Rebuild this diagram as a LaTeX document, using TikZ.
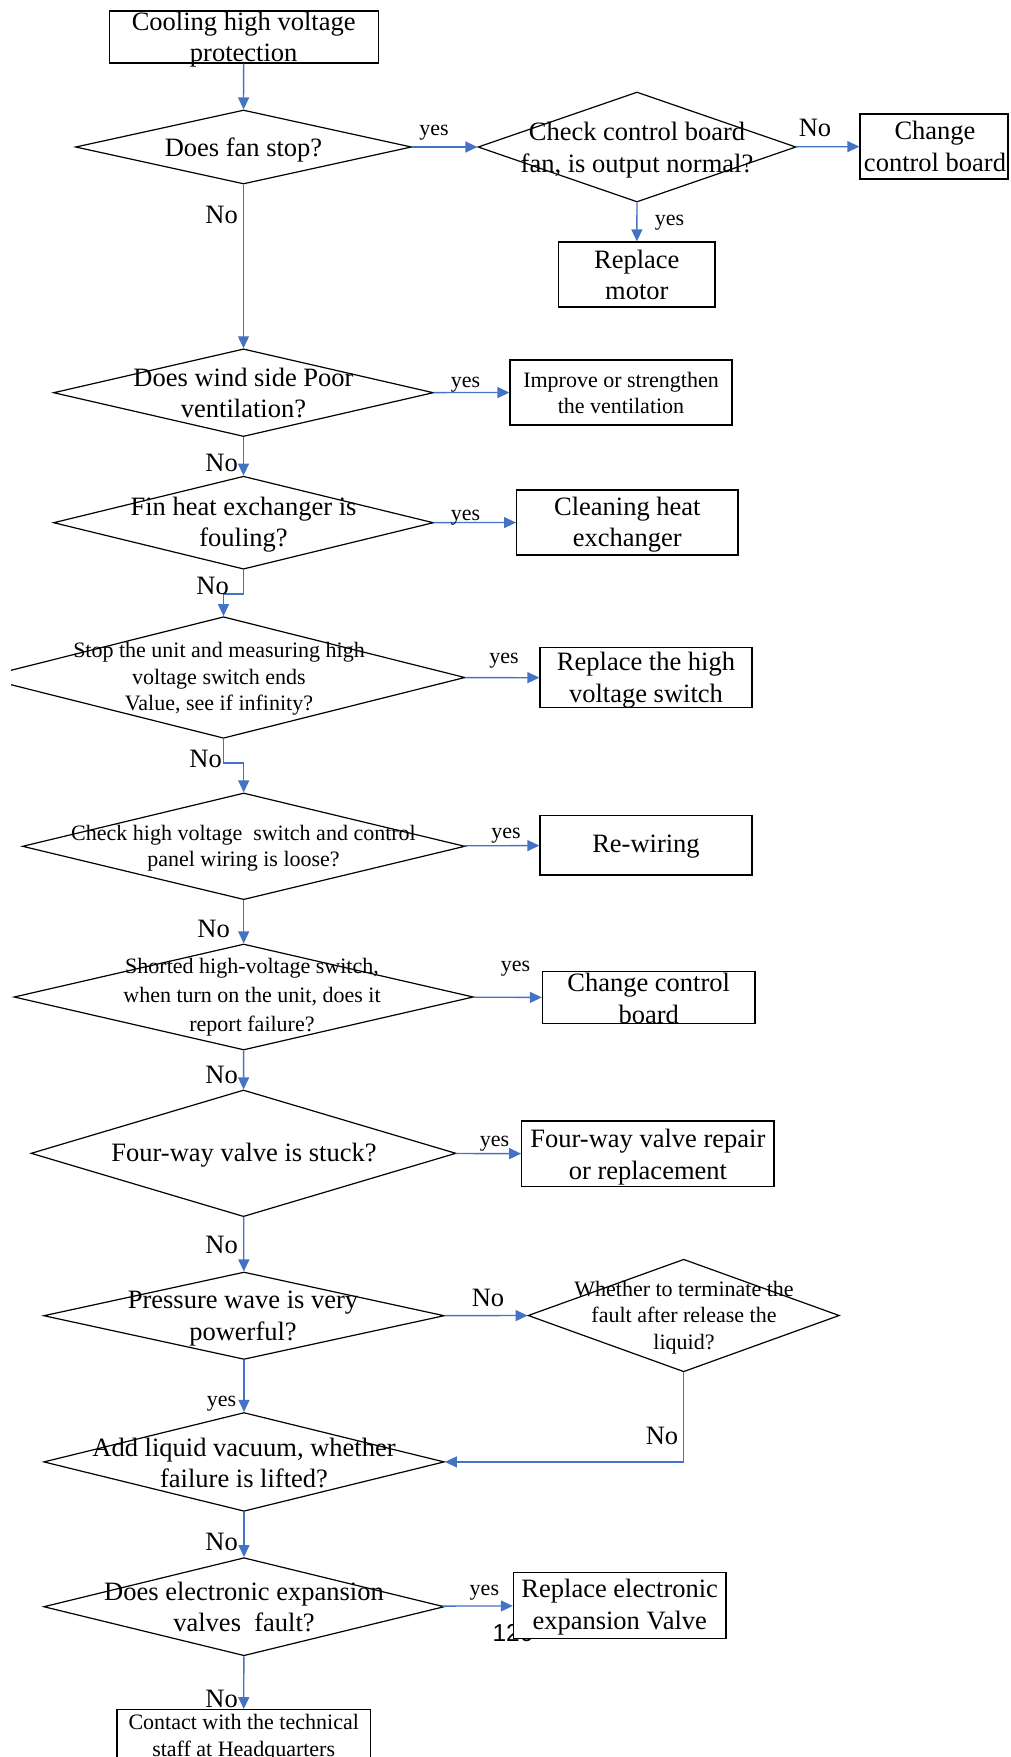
\documentclass[tikz,border=0pt]{standalone}
\usepackage{fontspec}
\setmainfont{Liberation Serif}
\newfontfamily\pagenofont{Liberation Sans}
\usepackage{tikz}
\usetikzlibrary{arrows.meta,shapes.geometric}
\definecolor{linkblue}{RGB}{68,114,196}

\begin{document}
\begin{tikzpicture}[x=1pt, y=-1pt, >={Triangle[length=12pt, width=11pt]},
	big/.style={font={\fontsize{26.5}{31.5}\selectfont}, inner sep=0pt},
	sml/.style={font={\fontsize{22}{26.5}\selectfont}, inner sep=0pt},
	box/.style={draw, fill=white, line width=1.2pt, inner sep=0pt},
	dia/.style={draw, diamond, line width=1.2pt, inner sep=0pt},
	txt/.style={align=center, big},
	link/.style={->, draw=linkblue, line width=1.3pt}]
	\useasboundingbox (0,0) rectangle (1010,1757);
	\clip (11,0) rectangle (1010,1757);
	\node[box, minimum width=269, minimum height=52] (start) at (243.7,37) {};
	\node[txt] (start-t) at (243.7,39.5) {Cooling high voltage\\protection};
	\node[dia, minimum width=336, minimum height=74] (fan) at (243.5,147) {};
	\node[txt] (fan-q) at (243.5,150) {Does fan stop?};
	\node[dia, minimum width=318, minimum height=110] (chk) at (637,147) {};
	\node[txt] (chk-q) at (637,150) {Check control board\\fan, is output normal?};
	\node[box, minimum width=148, minimum height=65] (chg) at (934,146.5) {};
	\node[txt] (chg-t) at (935,146.5) {Change\\control board};
	\node[box, minimum width=156.5, minimum height=65] (motor) at (636.8,274.5) {};
	\node[txt] (motor-t) at (636.8,275) {Replace\\motor};
	\node[dia, minimum width=380, minimum height=87.7] (wind) at (243.5,392.7) {};
	\node[txt] (wind-q) at (243.5,393) {Does wind side Poor\\ventilation?};
	\node[box, minimum width=222, minimum height=65] (impr) at (621,392.5) {};
	\node[txt, sml] (impr-t) at (621,393) {Improve or strengthen\\the ventilation};
	\node[dia, minimum width=380, minimum height=93] (fin) at (243.5,522.7) {};
	\node[txt] (fin-q) at (243.5,524.5) {Fin heat exchanger is\\fouling?};
	\node[box, minimum width=221.4, minimum height=65] (clean) at (627.3,522.5) {};
	\node[txt] (clean-t) at (627.3,524.5) {Cleaning heat\\exchanger};
	\node[dia, minimum width=483, minimum height=121.6] (stopd) at (223.5,677.5) {};
	\node[txt, sml] (stopd-q) at (219,679) {Stop the unit and measuring high\\voltage switch ends\hspace*{22pt}\\Value, see if infinity?};
	\node[box, minimum width=212, minimum height=60] (hvsw) at (646,677.7) {};
	\node[txt] (hvsw-t) at (646,680.2) {Replace the high\\voltage switch};
	\node[dia, minimum width=442.5, minimum height=106.7] (wire) at (243.7,846.3) {};
	\node[txt, sml] (wire-q) at (243.5,848.2) {Check high voltage~ switch and control\\panel wiring is loose?};
	\node[box, minimum width=212, minimum height=59.3] (rewire) at (646,845.3) {};
	\node[txt] (rewire-t) at (646,846.5) {Re-wiring};
	\node[dia, minimum width=459.4, minimum height=106] (short) at (243.7,997) {};
	\node[txt, sml, font={\fontsize{22}{29}\selectfont}] (short-q) at (252,997.5) {Shorted high-voltage switch,\\when turn on the unit, does it\\report failure?};
	\node[box, minimum width=212.6, minimum height=51.6] (ccb) at (648.7,997.5) {};
	\node[txt] (ccb-t) at (648.7,998.5) {Change control\\board};
	\node[dia, minimum width=425, minimum height=126.7] (four) at (243.5,1153.3) {};
	\node[txt] (four-q) at (244,1155.3) {Four-way valve is stuck?};
	\node[box, minimum width=252.3, minimum height=65.7] (fwbox) at (647.9,1153.8) {};
	\node[txt] (fwbox-t) at (647.9,1157) {Four-way valve repair\\or replacement};
	\node[dia, minimum width=400.6, minimum height=87.4] (press) at (244,1315.7) {};
	\node[txt] (press-q) at (243,1318.5) {Pressure wave is very\\powerful?};
	\node[dia, minimum width=311.3, minimum height=112.6] (whe) at (683.7,1315.5) {};
	\node[txt, sml] (whe-q) at (684,1317.5) {Whether to terminate the\\fault after release the\\liquid?};
	\node[dia, minimum width=400.6, minimum height=98.8] (add) at (244,1461.9) {};
	\node[txt] (add-q) at (244,1462.8) {Add liquid vacuum, whether\\failure is lifted?};
	\node[dia, minimum width=400.6, minimum height=98.1] (eev) at (244,1606.7) {};
	\node[txt] (eev-q) at (244,1606.8) {Does electronic expansion\\valves~ fault?};
	\node[font={\pagenofont\fontsize{24.5}{28}\selectfont}, inner sep=0pt] (pageno) at (513,1633) {120};
	\node[box, minimum width=212.6, minimum height=65.6] (reev) at (619.7,1605.6) {};
	\node[txt] (reev-t) at (619.7,1607) {Replace electronic\\expansion Valve};
	\node[box, minimum width=253.4, minimum height=56] (contact) at (243.7,1737.6) {};
	\node[txt, sml] (contact-t) at (243.7,1737.5) {Contact with the technical\\staff at Headquarters};
	\draw[link] (start) -- (fan);
	\draw[link] (fan) -- (chk);
	\draw[link] (chk) -- (chg);
	\draw[link] (chk) -- (motor);
	\draw[link] (fan) -- (wind);
	\draw[link] (wind) -- (impr);
	\draw[link] (wind) -- (fin);
	\draw[link] (fin) -- (clean);
	\draw[link] (fin.south) -- ++(0,24.3) -| (stopd.north);
	\draw[link] (stopd) -- (hvsw);
	\draw[link] (stopd.south) -- ++(0,24) -| (wire.north);
	\draw[link] (wire) -- (rewire);
	\draw[link] (wire) -- (short);
	\draw[link] (short) -- (ccb);
	\draw[link] (short) -- (four);
	\draw[link] (four) -- (fwbox);
	\draw[link] (four) -- (press);
	\draw[link] (press) -- (whe);
	\draw[link] (press) -- (add);
	\draw[link] (whe.south) |- (add.east);
	\draw[link] (add) -- (eev);
	\draw[link] (eev) -- (reev);
	\draw[link] (eev) -- (contact);
	\node[sml] (fan-yes) at (434,133) {yes};
	\node[big] (chk-no) at (815,128) {No};
	\node[sml] (chk-yes) at (669.5,223) {yes};
	\node[big, anchor=east] (fan-no) at (238,215) {No};
	\node[sml] (wind-yes) at (465.5,384.5) {yes};
	\node[big, anchor=east] (wind-no) at (238,462.5) {No};
	\node[sml] (fin-yes) at (465.5,518) {yes};
	\node[big, anchor=east] (fin-no) at (229,586) {No};
	\node[sml] (stopd-yes) at (504,661) {yes};
	\node[big, anchor=east] (stopd-no) at (222,759) {No};
	\node[sml] (wire-yes) at (506,835.5) {yes};
	\node[big, anchor=east] (wire-no) at (230,928.5) {No};
	\node[sml] (short-yes) at (515.5,968.5) {yes};
	\node[big, anchor=east] (short-no) at (238,1075) {No};
	\node[sml] (four-yes) at (494.5,1143.5) {yes};
	\node[big, anchor=east] (four-no) at (238,1245) {No};
	\node[big] (press-no) at (488,1297.5) {No};
	\node[sml, anchor=east] (press-yes) at (236.4,1404) {yes};
	\node[big] (whe-no) at (662,1436) {No};
	\node[big, anchor=east] (add-no) at (238,1542) {No};
	\node[sml] (eev-yes) at (484.4,1592.5) {yes};
	\node[big, anchor=east] (eev-no) at (238,1698.5) {No};
\end{tikzpicture}
\end{document}
